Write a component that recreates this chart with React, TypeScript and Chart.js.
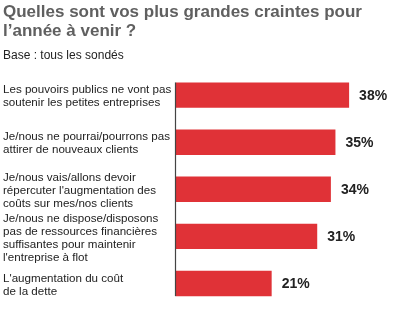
import React, { useEffect, useRef } from "react";
import { Chart, registerables } from "chart.js";

Chart.register(...registerables);

const titleLines = ["Quelles sont vos plus grandes craintes pour", "l’année à venir ?"];
const subtitleText = "Base : tous les sondés";

const categories: string[][] = [
  ["Les pouvoirs publics ne vont pas", "soutenir les petites entreprises"],
  ["Je/nous ne pourrai/pourrons pas", "attirer de nouveaux clients"],
  ["Je/nous vais/allons devoir", "répercuter l'augmentation des", "coûts sur mes/nos clients"],
  ["Je/nous ne dispose/disposons", "pas de ressources financières", "suffisantes pour maintenir", "l'entreprise à flot"],
  ["L'augmentation du coût", "de la dette"],
];
const values: number[] = [38, 35, 34, 31, 21];
const valueLabels: string[] = ["38%", "35%", "34%", "31%", "21%"];

const FONT = "'Liberation Sans', Arial, Helvetica, sans-serif";

const decorPlugin = {
  id: "decor",
  afterDatasetsDraw(chart: any) {
    const ctx = chart.ctx;
    const meta = chart.getDatasetMeta(0);
    const xs = chart.scales.x;
    const x0 = Math.round(xs.getPixelForValue(0)) - 0.5;
    const first = meta.data[0];
    const last = meta.data[meta.data.length - 1];
    const top = first.y - first.height / 2;
    const bottom = last.y + last.height / 2;
    ctx.save();
    ctx.strokeStyle = "#444444";
    ctx.lineWidth = 1.2;
    ctx.beginPath();
    ctx.moveTo(x0, top);
    ctx.lineTo(x0, bottom);
    ctx.stroke();
    ctx.fillStyle = "#222222";
    ctx.font = `bold 14px ${FONT}`;
    ctx.textAlign = "left";
    ctx.textBaseline = "middle";
    meta.data.forEach((bar: any, i: number) => {
      ctx.fillText(valueLabels[i], bar.x + 10, bar.y + 1);
    });
    ctx.restore();
  },
};

export default function App() {
  const ref = useRef<HTMLCanvasElement | null>(null);
  useEffect(() => {
    document.body.style.margin = "0";
    const canvas = ref.current;
    if (!canvas) return;
    const chart = new Chart(canvas, {
      type: "bar",
      data: {
        labels: categories,
        datasets: [
          {
            data: values,
            backgroundColor: "#e03237",
            borderWidth: 0,
            barPercentage: 0.54,
            categoryPercentage: 1,
          },
        ],
      },
      options: {
        indexAxis: "y",
        responsive: false,
        animation: false,
        layout: { padding: { left: 3, right: 13, top: 0, bottom: 9.5 } },
        plugins: {
          legend: { display: false },
          tooltip: { enabled: false },
          title: {
            display: true,
            text: titleLines,
            align: "start",
            color: "#606060",
            font: { family: FONT, size: 17, weight: "bold", lineHeight: 18.7 / 17 },
            padding: { top: 3, bottom: 0 },
          },
          subtitle: {
            display: true,
            text: subtitleText,
            align: "start",
            color: "#222222",
            font: { family: FONT, size: 12, lineHeight: 1.1 },
            padding: { top: 8.5, bottom: 9.5 },
          },
        },
        scales: {
          x: {
            display: false,
            min: 0,
            max: 45,
          },
          y: {
            grid: { display: false },
            border: { display: false },
            ticks: {
              autoSkip: false,
              crossAlign: "far",
              labelOffset: 1.5,
              color: "#222222",
              font: { family: FONT, size: 11.6, lineHeight: 13 / 11.6 },
            },
            afterFit(scale: any) {
              scale.width = 173;
            },
          },
        },
      },
      plugins: [decorPlugin],
    });
    return () => chart.destroy();
  }, []);
  return <canvas ref={ref} width={394} height={323} style={{ display: "block" }} />;
}
